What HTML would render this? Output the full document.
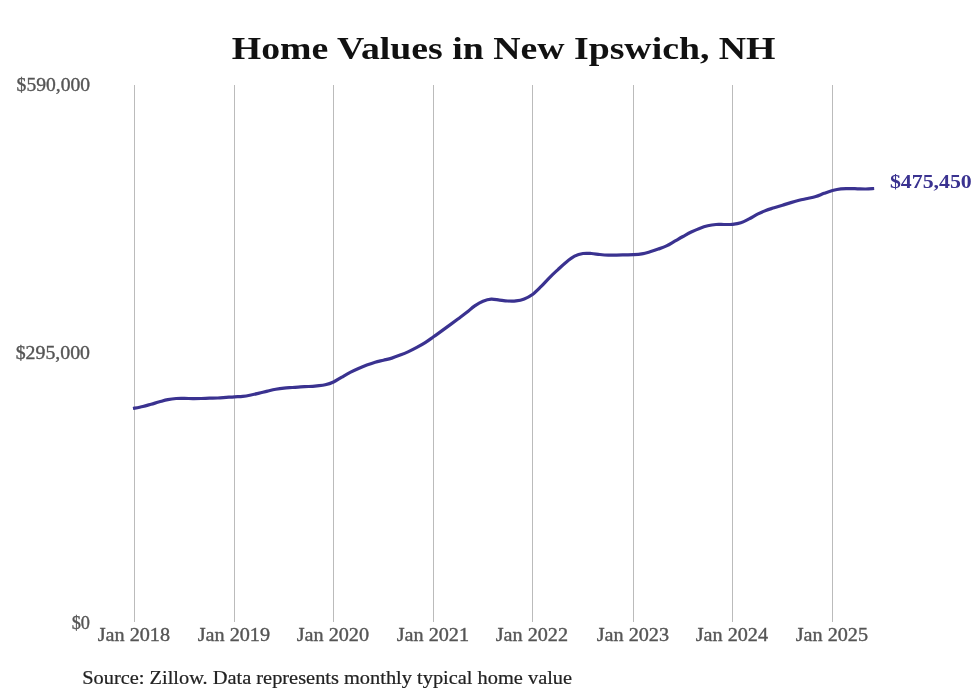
<!DOCTYPE html>
<html><head><meta charset="utf-8"><style>
html,body{margin:0;padding:0;background:#fff;}
body{width:980px;height:699px;overflow:hidden;}
svg{display:block;will-change:transform;}
text{font-family:"Liberation Serif",serif;}
</style></head><body>
<svg width="980" height="699" viewBox="0 0 980 699">
<rect width="980" height="699" fill="#fff"/>
<text x="231.8" y="59" font-size="31" font-weight="bold" fill="#111" textLength="543.7" lengthAdjust="spacingAndGlyphs">Home Values in New Ipswich, NH</text>
<g stroke="#bbbbbb" stroke-width="1" shape-rendering="crispEdges"><line x1="134.5" y1="84.8" x2="134.5" y2="621.6"/><line x1="234.5" y1="84.8" x2="234.5" y2="621.6"/><line x1="333.5" y1="84.8" x2="333.5" y2="621.6"/><line x1="433.5" y1="84.8" x2="433.5" y2="621.6"/><line x1="532.5" y1="84.8" x2="532.5" y2="621.6"/><line x1="633.5" y1="84.8" x2="633.5" y2="621.6"/><line x1="732.5" y1="84.8" x2="732.5" y2="621.6"/><line x1="832.5" y1="84.8" x2="832.5" y2="621.6"/></g>
<g font-size="18" fill="#555555" stroke="#555555" stroke-width="0.35"><text x="133.9" y="640.8" text-anchor="middle" textLength="72.3" lengthAdjust="spacingAndGlyphs">Jan 2018</text><text x="233.9" y="640.8" text-anchor="middle" textLength="72.3" lengthAdjust="spacingAndGlyphs">Jan 2019</text><text x="332.9" y="640.8" text-anchor="middle" textLength="72.3" lengthAdjust="spacingAndGlyphs">Jan 2020</text><text x="432.9" y="640.8" text-anchor="middle" textLength="72.3" lengthAdjust="spacingAndGlyphs">Jan 2021</text><text x="531.9" y="640.8" text-anchor="middle" textLength="72.3" lengthAdjust="spacingAndGlyphs">Jan 2022</text><text x="632.9" y="640.8" text-anchor="middle" textLength="72.3" lengthAdjust="spacingAndGlyphs">Jan 2023</text><text x="731.9" y="640.8" text-anchor="middle" textLength="72.3" lengthAdjust="spacingAndGlyphs">Jan 2024</text><text x="831.9" y="640.8" text-anchor="middle" textLength="72.3" lengthAdjust="spacingAndGlyphs">Jan 2025</text></g>
<g font-size="18" fill="#555555" stroke="#555555" stroke-width="0.35"><text x="90.0" y="90.7" text-anchor="end" textLength="73.4" lengthAdjust="spacingAndGlyphs">$590,000</text><text x="90.0" y="358.6" text-anchor="end" textLength="74.3" lengthAdjust="spacingAndGlyphs">$295,000</text><text x="90.0" y="628.6" text-anchor="end" textLength="18.3" lengthAdjust="spacingAndGlyphs">$0</text></g>
<path d="M133.00,408.50 C134.64,408.17 139.81,407.22 142.83,406.50 C145.86,405.78 148.39,404.98 151.17,404.20 C153.94,403.42 156.72,402.57 159.50,401.80 C162.28,401.03 165.06,400.15 167.83,399.60 C170.61,399.05 173.39,398.70 176.17,398.50 C178.94,398.30 181.72,398.38 184.50,398.40 C187.28,398.42 190.06,398.58 192.83,398.60 C195.61,398.62 198.39,398.57 201.17,398.50 C203.94,398.43 206.72,398.28 209.50,398.20 C212.28,398.12 215.06,398.13 217.83,398.00 C220.61,397.87 223.39,397.60 226.17,397.40 C228.94,397.20 231.74,396.97 234.50,396.80 C237.26,396.63 240.00,396.70 242.75,396.40 C245.50,396.10 248.25,395.55 251.00,395.00 C253.75,394.45 256.50,393.75 259.25,393.10 C262.00,392.45 264.75,391.73 267.50,391.10 C270.25,390.47 273.00,389.80 275.75,389.30 C278.50,388.80 281.25,388.40 284.00,388.10 C286.75,387.80 289.50,387.70 292.25,387.50 C295.00,387.30 297.75,387.07 300.50,386.90 C303.25,386.73 306.00,386.68 308.75,386.50 C311.50,386.32 314.25,386.08 317.00,385.80 C319.75,385.52 322.50,385.43 325.25,384.80 C328.00,384.17 330.74,383.28 333.50,382.00 C336.26,380.72 339.06,378.70 341.83,377.10 C344.61,375.50 347.39,373.83 350.17,372.40 C352.94,370.97 355.72,369.72 358.50,368.50 C361.28,367.28 364.06,366.15 366.83,365.10 C369.61,364.05 372.39,363.02 375.17,362.20 C377.94,361.38 380.72,360.88 383.50,360.20 C386.28,359.52 389.06,358.95 391.83,358.10 C394.61,357.25 397.39,356.18 400.17,355.10 C402.94,354.02 405.72,352.88 408.50,351.60 C411.28,350.32 414.06,348.90 416.83,347.40 C419.61,345.90 422.39,344.37 425.17,342.60 C427.94,340.83 430.74,338.75 433.50,336.80 C436.26,334.85 439.00,332.88 441.75,330.90 C444.50,328.92 447.25,326.92 450.00,324.90 C452.75,322.88 455.50,320.85 458.25,318.80 C461.00,316.75 463.75,314.75 466.50,312.60 C469.25,310.45 472.00,307.80 474.75,305.90 C477.50,304.00 480.25,302.33 483.00,301.20 C485.75,300.07 488.50,299.28 491.25,299.10 C494.00,298.92 496.75,299.78 499.50,300.10 C502.25,300.42 505.00,300.87 507.75,301.00 C510.50,301.13 513.25,301.25 516.00,300.90 C518.75,300.55 521.50,299.97 524.25,298.90 C527.00,297.83 529.72,296.53 532.50,294.50 C535.28,292.47 538.11,289.48 540.92,286.70 C543.72,283.92 546.53,280.62 549.33,277.80 C552.14,274.98 554.94,272.40 557.75,269.80 C560.56,267.20 563.36,264.47 566.17,262.20 C568.97,259.93 571.78,257.65 574.58,256.20 C577.39,254.75 580.19,253.95 583.00,253.50 C585.81,253.05 588.61,253.33 591.42,253.50 C594.22,253.67 597.03,254.23 599.83,254.50 C602.64,254.77 605.44,255.00 608.25,255.10 C611.06,255.20 613.86,255.13 616.67,255.10 C619.47,255.07 622.28,254.97 625.08,254.90 C627.89,254.83 630.72,254.87 633.50,254.70 C636.28,254.53 639.00,254.38 641.75,253.90 C644.50,253.42 647.25,252.60 650.00,251.80 C652.75,251.00 655.50,250.08 658.25,249.10 C661.00,248.12 663.75,247.22 666.50,245.90 C669.25,244.58 672.00,242.77 674.75,241.20 C677.50,239.63 680.25,238.03 683.00,236.50 C685.75,234.97 688.50,233.35 691.25,232.00 C694.00,230.65 696.75,229.43 699.50,228.40 C702.25,227.37 705.00,226.45 707.75,225.80 C710.50,225.15 713.25,224.72 716.00,224.50 C718.75,224.28 721.50,224.53 724.25,224.50 C727.00,224.47 729.74,224.58 732.50,224.30 C735.26,224.02 738.06,223.70 740.83,222.80 C743.61,221.90 746.39,220.33 749.17,218.90 C751.94,217.47 754.72,215.62 757.50,214.20 C760.28,212.78 763.06,211.47 765.83,210.40 C768.61,209.33 771.39,208.67 774.17,207.80 C776.94,206.93 779.72,206.07 782.50,205.20 C785.28,204.33 788.06,203.42 790.83,202.60 C793.61,201.78 796.39,200.98 799.17,200.30 C801.94,199.62 804.72,199.13 807.50,198.50 C810.28,197.87 813.06,197.37 815.83,196.50 C818.61,195.63 821.39,194.30 824.17,193.30 C826.94,192.30 829.72,191.25 832.50,190.50 C835.28,189.75 838.06,189.12 840.83,188.80 C843.61,188.48 846.39,188.60 849.17,188.60 C851.94,188.60 854.72,188.73 857.50,188.80 C860.28,188.87 863.06,189.05 865.83,189.00 C868.61,188.95 872.78,188.58 874.17,188.50" fill="none" stroke="#3a3290" stroke-width="3.2" stroke-linecap="butt" stroke-linejoin="round"/>
<text x="889.9" y="187.9" font-size="18" font-weight="bold" fill="#3a3290" textLength="81.9" lengthAdjust="spacingAndGlyphs">$475,450</text>
<text x="82.2" y="683.8" font-size="18" fill="#222222" stroke="#222222" stroke-width="0.2" textLength="489.9" lengthAdjust="spacingAndGlyphs">Source: Zillow. Data represents monthly typical home value</text>
</svg>
</body></html>
